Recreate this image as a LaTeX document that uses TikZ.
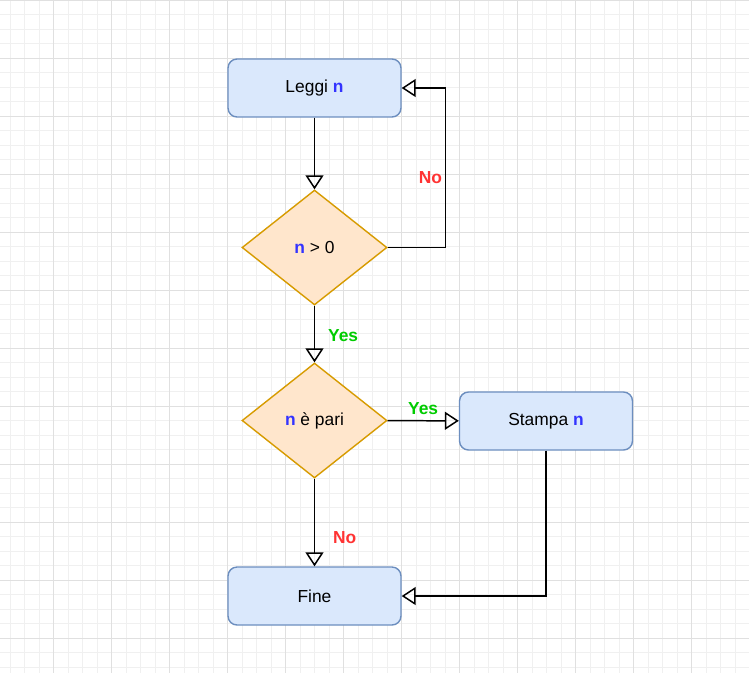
\documentclass[tikz,border=0pt]{standalone}
\usepackage{fontspec}
\setmainfont{Liberation Sans}
\usetikzlibrary{arrows.meta,shapes.geometric}
\definecolor{procfill}{HTML}{DAE8FC}
\definecolor{procline}{HTML}{6C8EBF}
\definecolor{decfill}{HTML}{FFE6CC}
\definecolor{decline}{HTML}{D79B00}
\definecolor{varblue}{HTML}{3333FF}
\definecolor{yesgreen}{HTML}{00CC00}
\definecolor{nored}{HTML}{FF3333}
\newcommand{\varn}{\textcolor{varblue}{\textbf{n}}}

\begin{document}
\begin{tikzpicture}[
x=0.02cm, y=-0.02cm,
font=\fontsize{9.9}{12}\selectfont,
minorline/.style={draw=black!6, line width=0.5pt},
majorline/.style={draw=black!12, line width=0.6pt},
process/.style={rectangle, rounded corners=0.18cm, draw=procline, fill=procfill, line width=0.8pt, minimum width=3.46cm, minimum height=1.16cm},
decision/.style={diamond, draw=decline, fill=decfill, line width=0.8pt, inner sep=0pt, minimum width=2.9cm, minimum height=2.3cm},
flow/.style={draw=black, line width=0.85pt, -{Triangle[open, length=0.28cm, width=0.36cm]}},
yeslabel/.style={text=yesgreen, font=\fontsize{9.9}{12}\selectfont\bfseries},
nolabel/.style={text=nored, font=\fontsize{9.9}{12}\selectfont\bfseries},
]
\useasboundingbox[fill=white] (0,0) rectangle (749,673);
% grid
\foreach \k in {-3,...,47} \draw[minorline] ({53.5+14.5*\k},0) -- ({53.5+14.5*\k},673);
\foreach \k in {0,...,46} \draw[minorline] (0,{0.3+14.5*\k}) -- (749,{0.3+14.5*\k});
\foreach \k in {-1,...,11} \draw[majorline] ({53.5+58*\k},0) -- ({53.5+58*\k},673);
\foreach \k in {0,...,11} \draw[majorline] (0,{0.3+58*\k}) -- (749,{0.3+58*\k});

\node[process] (leggi) at (314.5,88) {Leggi \varn};
\node[decision] (positivo) at (314.5,247.5) {\varn{} > 0};
\node[decision] (pari) at (314.5,420.5) {\varn{} è pari};
\node[process] (stampa) at (546,421) {Stampa \varn};
\node[process] (fine) at (314.5,596) {Fine};

\draw[flow] (leggi) -- (positivo);
\draw[flow] (positivo.east) -- ++(58,0) |- node[nolabel, pos=0.22, anchor=east, xshift=0.06cm] (no1) {No} (leggi.east);
\draw[flow] (positivo) -- node[yeslabel, pos=0.52, anchor=west, xshift=0.14cm] (yes1) {Yes} (pari);
\draw[flow] (pari) -- node[yeslabel, pos=0.5, anchor=south, inner sep=1pt, yshift=0.07cm] (yes2) {Yes} (stampa);
\draw[flow] (pari) -- node[nolabel, pos=0.67, anchor=west, xshift=0.24cm] (no2) {No} (fine);
\draw[flow] (stampa.south) |- (fine.east);

\end{tikzpicture}
\end{document}
